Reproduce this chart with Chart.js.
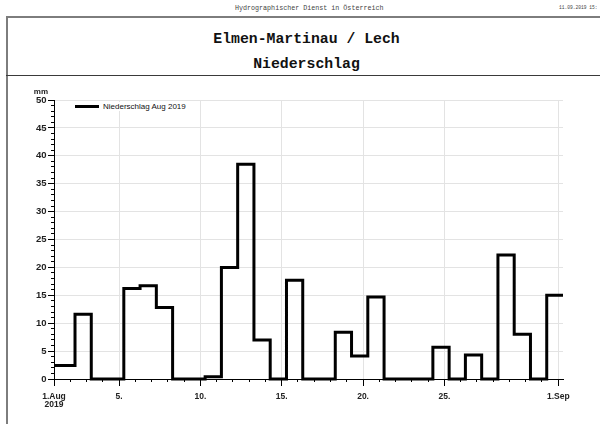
<!DOCTYPE html>
<html>
<head>
<meta charset="utf-8">
<script src="https://cdn.jsdelivr.net/npm/chart.js@4"></script>
<style>
  body { margin: 0; background: #fff; }
  #page { position: relative; width: 600px; height: 424px; overflow: hidden; background: #fff; }
  .mono { position: absolute; font-family: "Liberation Mono", "DejaVu Sans Mono", monospace; white-space: nowrap; }
  #frame { position: absolute; left: 6px; top: 16px; width: 620px; height: 420px; border-top: 2px solid #7d7d7d; border-left: 2px solid #7d7d7d; box-sizing: border-box; }
  #sep { position: absolute; left: 6px; top: 75px; width: 600px; border-top: 1.5px solid #3a3a3a; }
  #c { position: absolute; left: 0; top: 0; }
  #unit { position: absolute; left: 28px; width: 20px; top: 88px; text-align: right; font: bold 8px/8px "Liberation Sans", Arial, sans-serif; color: #222; }
  #legend { position: absolute; left: 75px; top: 101.5px; height: 9px; display: flex; align-items: center; background: #fff; font: 8px/9px "Liberation Sans", Arial, sans-serif; color: #111; padding-right: 2px; }
  #legend span.line { display: inline-block; width: 24px; height: 3px; background: #000; margin-right: 4px; }
</style>
</head>
<body>
<div id="page">
  <div class="mono" style="left:235px; top:4px; font-size:6.7px; line-height:8px; color:#444;">Hydrographischer Dienst in Österreich</div>
  <div class="mono" style="left:559px; top:5px; font-size:4.6px; line-height:6px; color:#444;">11.09.2019 15:</div>
  <div id="frame"></div>
  <div id="sep"></div>
  <div class="mono" style="left:0; width:613px; text-align:center; top:31px; font-size:14.8px; line-height:17px; font-weight:bold; color:#111;">Elmen-Martinau / Lech</div>
  <div class="mono" style="left:0; width:613px; text-align:center; top:56px; font-size:14.8px; line-height:17px; font-weight:bold; color:#111;">Niederschlag</div>
  <canvas id="c" width="600" height="424"></canvas>
  <div id="unit">mm</div>
  <div id="legend"></div>
</div>
<script>
// daily precipitation (07:00 - 07:00), first entry is the reading that runs into 1.Aug
const readingDays = ["31.7.", "1.8.", "2.8.", "3.8.", "4.8.", "5.8.", "6.8.", "7.8.", "8.8.", "9.8.", "10.8.",
  "11.8.", "12.8.", "13.8.", "14.8.", "15.8.", "16.8.", "17.8.", "18.8.", "19.8.", "20.8.",
  "21.8.", "22.8.", "23.8.", "24.8.", "25.8.", "26.8.", "27.8.", "28.8.", "29.8.", "30.8.", "31.8."];
const precip = [2.4, 2.4, 11.6, 0, 0, 16.2, 16.7, 12.8, 0, 0, 0.4,
  20.0, 38.5, 7.0, 0, 17.7, 0, 0, 8.4, 4.1, 14.7,
  0, 0, 0, 5.7, 0, 4.3, 0, 22.2, 8.0, 0, 15.0];
const seriesLabel = "Niederschlag Aug 2019";

// x axis: days after 1.Aug 00:00
const tickDays = [0, 4, 9, 14, 19, 24, 31];
const tickLabels = [["1.Aug", "2019"], "5.", "10.", "15.", "20.", "25.", "1.Sep"];
const readingHour = 7;
const xEnd = 31 + readingHour / 24;

const points = precip.map((v, i) => ({ x: i - 1 + readingHour / 24, y: v }));
points.push({ x: xEnd, y: precip[precip.length - 1] });

const legend = document.getElementById("legend");
legend.innerHTML = '<span class="line"></span>' + seriesLabel;

const tickFontX = { family: "'Liberation Sans', Arial, sans-serif", size: 8.5, weight: "bold", lineHeight: 1 };
const tickFontY = { family: "'Liberation Sans', Arial, sans-serif", size: 9.5, weight: "bold" };
const gridColor = "#e3e3e3";

new Chart(document.getElementById("c"), {
	type: "line",
	data: {
		datasets: [
			{
				label: seriesLabel,
				data: points,
				stepped: true,
				borderColor: "#000",
				borderWidth: 3,
				borderCapStyle: "butt",
				borderJoinStyle: "miter",
				pointRadius: 0,
				fill: false,
				clip: { left: 0, top: 3, right: 0, bottom: 3 },
			},
		],
	},
	options: {
		responsive: false,
		animation: false,
		devicePixelRatio: 1,
		layout: { padding: { left: 0, right: 37, top: 100, bottom: 5 } },
		plugins: {
			legend: { display: false },
			tooltip: { enabled: false },
		},
		scales: {
			x: {
				type: "linear",
				position: "bottom",
				weight: 1,
				min: 0,
				max: xEnd,
				afterBuildTicks: s => {
					s.ticks = tickDays.map(v => ({ value: v }));
				},
				afterFit: s => {
					s.height = 40;
				},
				ticks: {
					autoSkip: false,
					maxRotation: 0,
					padding: 6,
					color: "#222",
					font: tickFontX,
					callback: (v, i) => tickLabels[i],
				},
				grid: { color: gridColor, tickColor: "#000", tickLength: 7 },
				border: { color: "#000", width: 1 },
			},
			xMinor: {
				type: "linear",
				position: "bottom",
				weight: 0,
				min: 0,
				max: xEnd,
				afterFit: s => {
					s.height = 0;
				},
				ticks: { display: false, stepSize: 1, includeBounds: false, maxTicksLimit: 100 },
				grid: { drawOnChartArea: false, tickColor: "#000", tickLength: 3 },
				border: { display: false },
			},
			y: {
				type: "linear",
				position: "left",
				weight: 1,
				min: 0,
				max: 50,
				afterFit: s => {
					s.width = 54;
				},
				ticks: { stepSize: 5, padding: 1.5, color: "#222", font: tickFontY },
				grid: { color: gridColor, tickColor: "#000", tickLength: 6 },
				border: { color: "#000", width: 1 },
			},
			yMinor: {
				type: "linear",
				position: "left",
				weight: 0,
				min: 0,
				max: 50,
				afterFit: s => {
					s.width = 0;
				},
				ticks: { display: false, stepSize: 1, maxTicksLimit: 100 },
				grid: { drawOnChartArea: false, tickColor: "#000", tickLength: 3 },
				border: { display: false },
			},
		},
	},
});
</script>
</body>
</html>
